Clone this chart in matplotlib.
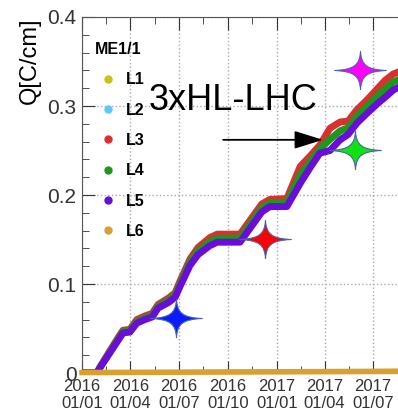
import matplotlib
matplotlib.use("Agg")
import matplotlib.pyplot as plt
import matplotlib.dates as mdates
from matplotlib.path import Path
from matplotlib.lines import Line2D
import numpy as np

plt.rcParams["font.family"] = ["Liberation Sans", "DejaVu Sans"]

# accumulated charge per layer, ME1/1
dates = ["2016-01-01", "2016-01-29", "2016-02-04", "2016-03-07", "2016-03-18",
         "2016-03-31", "2016-04-13", "2016-04-28", "2016-05-12", "2016-05-23",
         "2016-06-11", "2016-06-24", "2016-07-03", "2016-07-22", "2016-08-06",
         "2016-08-28", "2016-09-11", "2016-10-24", "2016-12-04", "2016-12-19",
         "2017-01-20", "2017-02-14", "2017-03-05", "2017-03-23", "2017-04-11",
         "2017-04-30", "2017-05-15", "2017-06-01", "2017-06-20", "2017-07-10",
         "2017-07-24", "2017-08-08", "2017-08-21", "2017-09-30"]
q_L3 = [0, 0, 0.007, 0.038, 0.048, 0.049, 0.060, 0.064, 0.067, 0.077,
        0.084, 0.090, 0.103, 0.128, 0.141, 0.152, 0.156, 0.156, 0.190, 0.195,
        0.196, 0.232, 0.244, 0.256, 0.275, 0.282, 0.283, 0.296, 0.307, 0.320,
        0.329, 0.336, 0.339, 0.341]
q_L4 = [0, 0, 0.0065, 0.0365, 0.0465, 0.0475, 0.058, 0.062, 0.065, 0.075,
        0.0815, 0.0875, 0.100, 0.1245, 0.137, 0.1475, 0.1515, 0.1515, 0.1855, 0.191,
        0.1915, 0.2225, 0.2375, 0.2515, 0.2625, 0.272, 0.2755, 0.2885, 0.2995, 0.3115,
        0.3195, 0.327, 0.3305, 0.333]
q_L5 = [0, 0, 0.006, 0.035, 0.045, 0.046, 0.056, 0.060, 0.063, 0.073,
        0.079, 0.085, 0.097, 0.121, 0.133, 0.143, 0.147, 0.147, 0.181, 0.187,
        0.187, 0.213, 0.231, 0.247, 0.250, 0.262, 0.268, 0.281, 0.292, 0.303,
        0.310, 0.318, 0.322, 0.325]

flat_dates = ["2016-01-01", "2017-09-30"]
q_L1 = [0.0005, 0.0025]
q_L2 = [0.0, 0.001]
q_L6 = [0.0005, 0.002]

# HL-LHC projections (stars)
star_dates = ["2016-06-26", "2016-12-10", "2017-05-28", "2017-06-06"]
star_q = [0.062, 0.151, 0.250, 0.340]
star_colors = ["#0a1cff", "#ff0000", "#11e011", "#ff00ff"]

layers = ["L1", "L2", "L3", "L4", "L5", "L6"]
layer_colors = ["#c9c21a", "#5bc8f5", "#d93030", "#1a9a1a", "#6a0dd8", "#d9a030"]

d = mdates.datestr2num(dates)
fd = mdates.datestr2num(flat_dates)

fig = plt.figure(figsize=(3.98, 4.15), dpi=100)
ax = fig.add_axes([82 / 398, 42 / 415, 348 / 398, 356 / 415])

ax.plot(fd, q_L1, color=layer_colors[0], lw=3, zorder=2)
ax.plot(fd, q_L2, color=layer_colors[1], lw=3, zorder=2)
ax.plot(d, q_L3, color=layer_colors[2], lw=5, zorder=3)
ax.plot(d, q_L4, color=layer_colors[3], lw=5, zorder=4)
ax.plot(d, q_L5, color=layer_colors[4], lw=5, zorder=5)
ax.plot(fd, q_L6, color=layer_colors[5], lw=4, zorder=6, clip_on=False)

# 4-point sparkle marker with concave sides
C4 = Path.CURVE4
star = Path([(1.35, 0),
             (0.3, 0.05), (0.05, 0.3), (0, 1),
             (-0.05, 0.3), (-0.3, 0.05), (-1.35, 0),
             (-0.3, -0.05), (-0.05, -0.3), (0, -1),
             (0.05, -0.3), (0.3, -0.05), (1.35, 0),
             (1.35, 0)],
            [Path.MOVETO] + [C4] * 12 + [Path.CLOSEPOLY])
sd = mdates.datestr2num(star_dates)
for x, y, c in zip(sd, star_q, star_colors):
    ax.plot([x], [y], marker=star, markersize=37, color=c,
            markeredgecolor="#4a64a8", markeredgewidth=0.8, zorder=7, ls="none")

ax.text(mdates.datestr2num("2016-05-06"), 0.2955, "3xHL-LHC", fontsize=26,
        va="baseline", ha="left", zorder=8)
ax.annotate("", xy=(mdates.datestr2num("2017-04-03"), 0.262),
            xytext=(mdates.datestr2num("2016-09-17"), 0.262),
            arrowprops=dict(arrowstyle="-|>,head_length=0.8,head_width=0.25",
                            mutation_scale=22, color="black", lw=1.3),
            zorder=8)

ax.set_ylim(0, 0.4)
ax.set_xlim(mdates.datestr2num("2016-01-01"), mdates.datestr2num("2017-10-16"))

major = mdates.datestr2num(["2016-01-01", "2016-04-01", "2016-07-01", "2016-10-01",
                            "2017-01-01", "2017-04-01", "2017-07-01", "2017-10-01"])
ax.set_xticks(major)
ax.set_xticks((major[:-1] + major[1:]) / 2, minor=True)
ax.xaxis.set_major_formatter(mdates.DateFormatter("%Y\n%d/%m"))
ax.set_yticks([0, 0.1, 0.2, 0.3, 0.4])
ax.set_yticklabels(["0", "0.1", "0.2", "0.3", "0.4"])
ax.set_yticks(np.arange(0, 0.4, 0.02), minor=True)

ax.tick_params(axis="x", which="both", direction="in", top=True, labelsize=12, pad=4,
               colors="#333333")
ax.tick_params(axis="y", which="both", direction="in", right=False, labelsize=15, pad=4,
               colors="#333333")
ax.tick_params(which="major", length=9)
ax.tick_params(which="minor", length=5)
ax.grid(True, which="major", color="#aaaaaa", ls=":", lw=1)
for s in ax.spines.values():
    s.set_color("#555555")

ax.set_ylabel("Q[C/cm]", fontsize=17, loc="top", labelpad=5)

handles = [Line2D([], [], ls="none", marker="o", markersize=5, color=c)
           for c in layer_colors]
leg = ax.legend(handles, layers, title="ME1/1", loc="upper left",
                bbox_to_anchor=(13 / 348, 1 - 25 / 356), frameon=False,
                borderpad=0, borderaxespad=0, handlelength=1.6, handletextpad=0.35,
                labelspacing=0.96, alignment="left",
                prop={"weight": "bold", "size": 11.5},
                title_fontproperties={"weight": "bold", "size": 11.5})
leg.set_zorder(9)

fig.savefig("out.png", dpi=100)
